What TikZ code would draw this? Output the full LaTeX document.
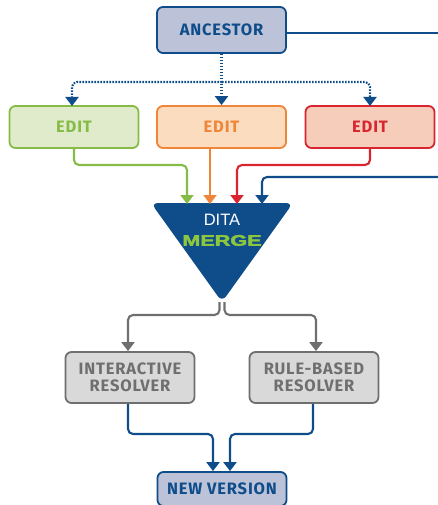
\documentclass[tikz,border=0pt]{standalone}
\usepackage{fontspec}
\setmainfont{Fira Sans}
\newfontfamily\lblfont[LetterSpace=5]{Fira Sans}
\newfontfamily\helv{Liberation Sans}
\newfontfamily\helvheavy[FakeBold=2.5]{Liberation Sans}
\usetikzlibrary{arrows.meta}
\definecolor{dblue}{HTML}{0E4C8A}
\definecolor{lblue}{HTML}{BCC3D8}
\definecolor{gfill}{HTML}{DFEBCB}
\definecolor{gline}{HTML}{86BC45}
\definecolor{ofill}{HTML}{FBDCBE}
\definecolor{oline}{HTML}{EF8539}
\definecolor{rfill}{HTML}{F6CDBA}
\definecolor{rline}{HTML}{D9252F}
\definecolor{grfill}{HTML}{D9D9D9}
\definecolor{grline}{HTML}{6F6F6F}
\definecolor{mgreen}{HTML}{8CC63F}
\tikzset{
  box/.style={draw, line width=1.8pt, rounded corners=6pt, minimum width=129pt,
    font=\lblfont\bfseries\fontsize{16.5}{17}\selectfont, align=center, inner sep=0pt},
  bluebox/.style={box, draw=dblue, fill=lblue, text=dblue},
  greenbox/.style={box, draw=gline, fill=gfill, text=gline, minimum height=42pt},
  orangebox/.style={box, draw=oline, fill=ofill, text=oline, minimum height=42pt},
  redbox/.style={box, draw=rline, fill=rfill, text=rline, minimum height=42pt},
  graybox/.style={box, draw=grline, fill=grfill, text=grline, minimum height=51pt},
  conn/.style={line width=2.1pt, rounded corners=5pt, -{Triangle[width=13pt,length=9pt]}},
  dotconn/.style={conn, dash pattern=on 1.6pt off 1.4pt, dblue},
}
\begin{document}
\begin{tikzpicture}[x=1pt,y=-1pt]
\useasboundingbox (0,0) rectangle (437,505);
% nodes
\node[bluebox, minimum height=46pt] (anc) at (221.5,30) {ANCESTOR};
\node[greenbox] (e1) at (74,127) {EDIT};
\node[orangebox] (e2) at (221.5,127) {EDIT};
\node[redbox] (e3) at (370,127) {EDIT};
\node[graybox] (r1) at (130,377.5) {INTERACTIVE\\RESOLVER};
\node[graybox] (r2) at (314,377.5) {RULE-BASED\\RESOLVER};
\node[bluebox, minimum height=34pt] (nv) at (222,489) {NEW VERSION};
% merge triangle
\coordinate (tl) at (151,203);
\coordinate (tr) at (293,203);
\coordinate (apex) at (222,302);
\fill[dblue, rounded corners=7pt] (tl) -- (tr) -- (apex) -- cycle;
\node[text=white, font=\helv\fontsize{16.5}{17}\selectfont, inner sep=0pt] (dita) at (222,220) {DITA};
\node[text=mgreen, font=\helvheavy\bfseries\fontsize{18}{19}\selectfont, inner sep=0pt] (merge) at (222,240.5) {\scalebox{1.2}[0.85]{MERGE}};
% helper coordinates
\coordinate (in1) at (187,204);
\coordinate (in2) at (210,204);
\coordinate (in3) at (237,204);
\coordinate (in4) at (262,204);
\coordinate (offA) at (445,33);
\coordinate (offB) at (445,177);
% dotted from ancestor
\draw[dotconn] (anc.south) -- (e2.north);
\draw[dotconn] (222,82) -- (72,82) -- (72,106);
\draw[dotconn] (222,82) -- (370,82) -- (370,106);
% edits to merge
\draw[conn, gline] (e1.south) -- (74,165) -- (187,165) -- (in1);
\draw[conn, oline] (e2.south -| in2) -- (in2);
\draw[conn, rline] (e3.south) -- (370,165) -- (237,165) -- (in3);
% ancestor to merge
\draw[line width=2.1pt, dblue] (anc.east |- 0,33) -- (offA);
\draw[conn, dblue] (offB) -- (262,177) -- (in4);
% merge to resolvers
\draw[conn, grline] ([xshift=-2.5pt]apex) -- (219.5,315) -- (128,315) -- (r1.north -| 128,0);
\draw[conn, grline] ([xshift=2.5pt]apex) -- (224.5,315) -- (316,315) -- (r2.north -| 316,0);
% resolvers to new version
\draw[conn, dblue] (r1.south -| 128,0) -- (128,434) -- (213,434) -- (nv.north -| 213,0);
\draw[conn, dblue] (r2.south -| 313,0) -- (313,434) -- (230,434) -- (nv.north -| 230,0);
\end{tikzpicture}
\end{document}
